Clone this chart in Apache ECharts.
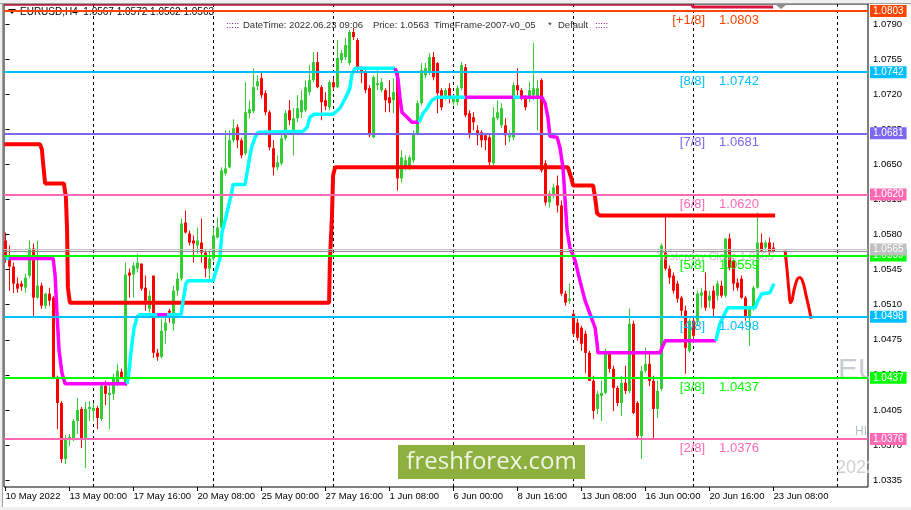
<!DOCTYPE html>
<html>
<head>
<meta charset="utf-8">
<script src="https://cdn.jsdelivr.net/npm/echarts@6/dist/echarts.min.js"></script>
<style>
html,body{margin:0;padding:0;background:#fff;overflow:hidden}
#chart{width:911px;height:510px}
</style>
</head>
<body>
<div id="chart"></div>
<script>
// ---------------- DATA ----------------
const xLabelBars = [0,16,32,48,64,80,96,112,128,144,160,176,192];
const xLabelTexts = ['10 May 2022','13 May 00:00','17 May 16:00','20 May 08:00','25 May 00:00','27 May 16:00','1 Jun 08:00','6 Jun 00:00','8 Jun 16:00','13 Jun 08:00','16 Jun 00:00','20 Jun 16:00','23 Jun 08:00'];
const yTickValues = [1.0790,1.0755,1.0720,1.0685,1.0650,1.0615,1.0580,1.0545,1.0510,1.0475,1.0440,1.0405,1.0370,1.0335];
const separatorBars = [22,52,82,112,142,172,208];

const open = [
1.0574,1.0559,1.0548,1.0531,1.0531,1.0527,1.0539,1.0566,1.0517,1.0529,
1.0509,1.0521,1.0517,1.0437,1.0412,1.0356,1.0375,1.0376,1.0394,1.0406,
1.0375,1.0406,1.0404,1.0407,1.0396,1.0429,1.0420,1.0421,1.0431,1.0443,
1.0431,1.0542,1.0540,1.0546,1.0551,1.0527,1.0506,1.0539,1.0462,1.0458,
1.0484,1.0504,1.0491,1.0524,1.0536,1.0592,1.0581,1.0574,1.0569,1.0572,
1.0562,1.0546,1.0556,1.0577,1.0587,1.0641,1.0647,1.0674,1.0687,1.0674,
1.0661,1.0701,1.0703,1.0728,1.0736,1.0721,1.0702,1.0666,1.0647,1.0651,
1.0676,1.0704,1.0684,1.0696,1.0702,1.0704,1.0722,1.0734,1.0752,1.0727,
1.0714,1.0707,1.0732,1.0727,1.0754,1.0757,1.0751,1.0782,1.0774,1.0746,
1.0742,1.0726,1.0677,1.0729,1.0724,1.0724,1.0717,1.0714,1.0742,1.0636,
1.0647,1.0646,1.0654,1.0681,1.0711,1.0739,1.0742,1.0757,1.0751,1.0724,
1.0717,1.0726,1.0712,1.0712,1.0726,1.0747,1.0701,1.0697,1.0684,1.0682,
1.0679,1.0677,1.0651,1.0696,1.0689,1.0689,1.0677,1.0677,1.0729,1.0724,
1.0716,1.0717,1.0719,1.0717,1.0734,1.0651,1.0612,1.0619,1.0629,1.0609,
1.0521,1.0514,1.0501,1.0492,1.0487,1.0481,1.0462,1.0434,1.0406,1.0419,
1.0422,1.0461,1.0446,1.0427,1.0412,1.0432,1.0424,1.0491,1.0412,1.0379,
1.0444,1.0451,1.0434,1.0406,1.0426,1.0562,1.0546,1.0539,1.0531,1.0517,
1.0504,1.0464,1.0494,1.0494,1.0519,1.0524,1.0514,1.0524,1.0519,1.0529,
1.0519,1.0576,1.0554,1.0532,1.0536,1.0517,1.0497,1.0506,1.0527,1.0572,
1.0567,1.0572,1.0567];
const high = [
1.0582,1.0569,1.0552,1.0537,1.0534,1.0541,1.0574,1.0571,1.0574,1.0532,
1.0522,1.0527,1.0519,1.0439,1.0414,1.0380,1.0381,1.0396,1.0417,1.0408,
1.0413,1.0414,1.0412,1.0409,1.0431,1.0434,1.0431,1.0441,1.0451,1.0446,
1.0552,1.0546,1.0552,1.0561,1.0551,1.0539,1.0524,1.0539,1.0466,1.0496,
1.0499,1.0506,1.0529,1.0542,1.0596,1.0604,1.0584,1.0579,1.0587,1.0596,
1.0564,1.0564,1.0587,1.0597,1.0647,1.0684,1.0684,1.0695,1.0690,1.0676,
1.0732,1.0714,1.0746,1.0739,1.0742,1.0724,1.0704,1.0674,1.0659,1.0684,
1.0704,1.0714,1.0706,1.0719,1.0724,1.0734,1.0749,1.0762,1.0762,1.0729,
1.0722,1.0734,1.0736,1.0774,1.0764,1.0776,1.0784,1.0786,1.0776,1.0748,
1.0744,1.0729,1.0739,1.0744,1.0736,1.0726,1.0734,1.0736,1.0744,1.0664,
1.0659,1.0659,1.0684,1.0714,1.0751,1.0751,1.0761,1.0762,1.0752,1.0726,
1.0726,1.0731,1.0719,1.0729,1.0752,1.0750,1.0704,1.0702,1.0689,1.0684,
1.0681,1.0679,1.0707,1.0714,1.0711,1.0696,1.0684,1.0732,1.0746,1.0726,
1.0719,1.0732,1.0771,1.0734,1.0736,1.0654,1.0624,1.0631,1.0639,1.0614,
1.0524,1.0531,1.0504,1.0496,1.0489,1.0484,1.0464,1.0439,1.0424,1.0434,
1.0466,1.0464,1.0449,1.0429,1.0439,1.0449,1.0506,1.0494,1.0414,1.0449,
1.0467,1.0464,1.0439,1.0434,1.0571,1.0599,1.0549,1.0542,1.0534,1.0519,
1.0509,1.0496,1.0499,1.0524,1.0527,1.0542,1.0524,1.0529,1.0534,1.0534,
1.0576,1.0581,1.0556,1.0536,1.0539,1.0519,1.0509,1.0529,1.0602,1.0581,
1.0574,1.0577,1.0572];
const low = [
1.0552,1.0524,1.0522,1.0522,1.0524,1.0522,1.0537,1.0499,1.0516,1.0506,
1.0506,1.0509,1.0436,1.0386,1.0352,1.0351,1.0369,1.0374,1.0381,1.0367,
1.0347,1.0394,1.0394,1.0386,1.0394,1.0410,1.0386,1.0415,1.0429,1.0436,
1.0429,1.0517,1.0517,1.0542,1.0524,1.0504,1.0502,1.0457,1.0454,1.0456,
1.0471,1.0492,1.0484,1.0519,1.0534,1.0581,1.0569,1.0552,1.0561,1.0552,
1.0537,1.0534,1.0554,1.0576,1.0584,1.0639,1.0646,1.0672,1.0666,1.0656,
1.0659,1.0696,1.0701,1.0724,1.0716,1.0699,1.0664,1.0639,1.0644,1.0649,
1.0674,1.0689,1.0659,1.0692,1.0696,1.0702,1.0719,1.0732,1.0726,1.0694,
1.0704,1.0704,1.0724,1.0726,1.0751,1.0754,1.0749,1.0774,1.0741,1.0731,
1.0721,1.0677,1.0676,1.0724,1.0722,1.0702,1.0702,1.0701,1.0624,1.0632,
1.0644,1.0644,1.0651,1.0679,1.0709,1.0736,1.0739,1.0734,1.0701,1.0704,
1.0714,1.0711,1.0709,1.0709,1.0724,1.0697,1.0676,1.0684,1.0669,1.0667,
1.0664,1.0649,1.0649,1.0694,1.0686,1.0669,1.0672,1.0674,1.0719,1.0714,
1.0704,1.0712,1.0714,1.0684,1.0642,1.0609,1.0607,1.0616,1.0602,1.0519,
1.0509,1.0511,1.0478,1.0474,1.0464,1.0442,1.0434,1.0396,1.0401,1.0394,
1.0421,1.0442,1.0404,1.0409,1.0399,1.0421,1.0422,1.0401,1.0377,1.0356,
1.0442,1.0429,1.0377,1.0397,1.0424,1.0544,1.0531,1.0521,1.0512,1.0499,
1.0441,1.0462,1.0474,1.0489,1.0507,1.0504,1.0507,1.0497,1.0514,1.0517,
1.0517,1.0544,1.0524,1.0524,1.0516,1.0494,1.0469,1.0504,1.0526,1.0562,
1.0564,1.0559,1.0562];
const close = [
1.0559,1.0548,1.0531,1.0526,1.0528,1.0537,1.0566,1.0517,1.0529,1.0509,
1.0521,1.0514,1.0437,1.0412,1.0356,1.0377,1.0378,1.0394,1.0405,1.0375,
1.0406,1.0408,1.0407,1.0397,1.0429,1.0421,1.0422,1.0437,1.0444,1.0437,
1.0540,1.0539,1.0549,1.0552,1.0526,1.0514,1.0519,1.0462,1.0458,1.0484,
1.0492,1.0502,1.0524,1.0536,1.0591,1.0582,1.0572,1.0571,1.0574,1.0562,
1.0546,1.0556,1.0579,1.0587,1.0644,1.0646,1.0674,1.0686,1.0674,1.0659,
1.0702,1.0705,1.0727,1.0733,1.0719,1.0702,1.0667,1.0647,1.0652,1.0676,
1.0701,1.0694,1.0696,1.0706,1.0714,1.0727,1.0734,1.0752,1.0727,1.0712,
1.0708,1.0732,1.0727,1.0756,1.0761,1.0769,1.0782,1.0777,1.0747,1.0741,
1.0724,1.0679,1.0737,1.0731,1.0732,1.0714,1.0711,1.0722,1.0636,1.0657,
1.0654,1.0657,1.0681,1.0711,1.0744,1.0746,1.0757,1.0737,1.0721,1.0707,
1.0724,1.0717,1.0717,1.0726,1.0749,1.0699,1.0681,1.0692,1.0679,1.0674,
1.0674,1.0652,1.0697,1.0702,1.0706,1.0679,1.0679,1.0729,1.0724,1.0716,
1.0707,1.0724,1.0726,1.0726,1.0644,1.0612,1.0621,1.0627,1.0609,1.0521,
1.0512,1.0516,1.0481,1.0477,1.0471,1.0462,1.0434,1.0404,1.0421,1.0422,
1.0464,1.0446,1.0427,1.0412,1.0432,1.0424,1.0491,1.0402,1.0379,1.0444,
1.0451,1.0434,1.0406,1.0424,1.0569,1.0546,1.0537,1.0524,1.0516,1.0504,
1.0467,1.0494,1.0479,1.0521,1.0522,1.0507,1.0519,1.0506,1.0531,1.0519,
1.0576,1.0547,1.0531,1.0527,1.0517,1.0497,1.0506,1.0527,1.0572,1.0564,
1.0572,1.0562,1.0563];

// Murrey math levels
const levelValues = [1.0803,1.0742,1.0681,1.0620,1.0559,1.0498,1.0437,1.0376];
const levelNames  = ['[+1/8]','[8/8]','[7/8]','[6/8]','[5/8]','[4/8]','[3/8]','[2/8]'];
const yesterdayClose = 1.0565;
const bidPrice = 1.0563;

// trailing trend line (cyan = up, magenta = down), vertices
const stBars = [0,1,11.9,12.4,12.9,13.4,14.1,14.9,30.4,30.9,31.4,32.1,32.9,33.6,37.9,40.4,43.9,44.4,45.1,45.6,
51.9,52.9,53.6,54.1,54.9,55.6,56.4,56.9,59.9,60.4,60.9,61.6,62.4,63.1,74.4,75.4,76.1,77.1,81.9,83.6,
85.1,86.1,86.6,87.4,97.4,98.1,98.6,99.1,100.4,101.6,103.4,104.4,105.4,106.6,107.9,114.9,126.9,128.6,134.1,134.9,
135.6,136.1,137.9,138.6,139.4,139.9,140.4,141.1,142.4,143.6,144.9,146.1,147.4,147.9,148.1,163.6,164.9,177.6,178.6,179.9,
180.6,187.4,188.1,189.1,191.1,192.1];
const stPrices = [1.0556,1.0556,1.0556,1.0539,1.0499,1.0464,1.0442,1.0431,1.0431,1.0444,1.0464,1.0486,1.0498,1.0500,1.0500,1.0500,1.0500,1.0514,1.0531,1.0534,
1.0534,1.0547,1.0556,1.0582,1.0594,1.0606,1.0619,1.0630,1.0630,1.0642,1.0654,1.0668,1.0677,1.0682,1.0683,1.0687,1.0697,1.0700,1.0700,1.0706,
1.0717,1.0726,1.0740,1.0746,1.0746,1.0736,1.0717,1.0702,1.0697,1.0692,1.0692,1.0701,1.0706,1.0714,1.0717,1.0717,1.0717,1.0717,1.0717,1.0711,
1.0697,1.0678,1.0677,1.0667,1.0646,1.0614,1.0584,1.0567,1.0554,1.0534,1.0514,1.0501,1.0487,1.0471,1.0462,1.0462,1.0474,1.0474,1.0491,1.0502,
1.0507,1.0507,1.0514,1.0521,1.0522,1.0531];
const stTrend = [1,0,0,0,0,0,0,0,1,1,1,1,1,1,0,1,1,1,1,1,
1,1,1,1,1,1,1,1,1,1,1,1,1,1,1,1,1,1,1,1,
1,1,1,1,0,0,0,0,0,0,1,1,1,1,1,0,1,0,0,0,
0,0,0,0,0,0,0,0,0,0,0,0,0,0,0,0,0,1,1,1,
1,1,1,1,1,1];

// red stepped stop line
const stopBars = [-0.3,8.6,9.1,9.4,9.9,14.6,15.1,15.4,15.6,16.1,80.9,81.1,81.6,81.9,82.4,140.6,141.4,141.9,146.9,147.4,147.9,148.6,192.4];
const stopPrices = [1.0670,1.0670,1.0665,1.0651,1.0631,1.0631,1.0617,1.0584,1.0527,1.0512,1.0512,1.0554,1.0597,1.0639,1.0647,1.0647,1.0637,1.0629,1.0629,1.0617,1.0601,1.0599,1.0599];

// crimson line at the top edge
const upperBars = [-0.3,171.6,171.9,191.9];
const upperPrices = [1.0809,1.0809,1.0807,1.0807];

// red forecast curve
const fcBars = [194.9,195.4,195.9,196.2,196.6,197.1,197.9,198.6,199.4,200.1,200.9,201.4];
const fcPrices = [1.0564,1.0544,1.0522,1.0512,1.0514,1.0524,1.0535,1.0537,1.0532,1.0520,1.0506,1.0496];

// ---------------- STYLE / LAYOUT ----------------
const FONT = "'Liberation Sans', Arial, sans-serif";
const levelColors = ['#FF4500','#00BFFF','#7B68EE','#FF69B4','#00FF00','#00BFFF','#00FF00','#FF69B4'];
const PX_PER_UNIT = 10023.4;
const Y_MAX = 1.0803 + 7 / PX_PER_UNIT;
const Y_MIN = 1.0803 - 476 / PX_PER_UNIT;
const LABEL_NAME_BAR = 174.9;
const LABEL_VALUE_BAR = 178.4;
const YC_TEXT_BAR = 162.9;

function tstyle(o){
  const s = Object.assign({fontFamily: FONT}, o);
  if (o.align) s.textAlign = o.align;
  if (o.verticalAlign) s.textVerticalAlign = o.verticalAlign;
  return s;
}

const series = [];

// period separators
series.push({
  type:'line', data:[], z:1, silent:true,
  markLine:{symbol:['none','none'], silent:true, animation:false, precision:6, z:1,
    label:{show:false},
    lineStyle:{color:'#000', width:1, type:[3,3]},
    emphasis:{disabled:true},
    data: separatorBars.map(k => ({xAxis:k}))}
});

// candles
series.push({
  type:'custom', z:2, silent:true, clip:true,
  data: open.map((o,i)=>[i,o,close[i],low[i],high[i]]),
  encode:{x:0, y:[1,2,3,4]},
  renderItem:(params, api)=>{
    const k = api.value(0), o = api.value(1), c = api.value(2), l = api.value(3), h = api.value(4);
    const pO = api.coord([k,o]), pC = api.coord([k,c]), pL = api.coord([k,l]), pH = api.coord([k,h]);
    const x = pO[0];
    const color = c >= o ? '#32CD32' : '#FF0000';
    const top = Math.min(pO[1], pC[1]), bot = Math.max(pO[1], pC[1]);
    return {type:'group', children:[
      {type:'rect', shape:{x:x-0.5, y:pH[1], width:1, height:Math.max(1,pL[1]-pH[1])}, style:{fill:color}},
      {type:'rect', shape:{x:x-1.5, y:top, width:3, height:Math.max(1,bot-top)}, style:{fill:color}}
    ]};
  }
});

// red stop line
series.push({
  type:'line', z:3, silent:true, symbol:'none', clip:true,
  data: stopBars.map((k,i)=>[k, stopPrices[i]]),
  lineStyle:{color:'#FF0000', width:4}
});

// trend line runs
let runStart = 0;
for (let i = 1; i < stBars.length; i++) {
  if (i === stBars.length - 1 || stTrend[i] !== stTrend[runStart]) {
    const pts = [];
    for (let j = runStart; j <= i; j++) pts.push([stBars[j], stPrices[j]]);
    series.push({
      type:'line', z:3, silent:true, symbol:'none', clip:true, data: pts,
      lineStyle:{color: stTrend[runStart] ? '#00FFFF' : '#FF00FF', width:3.5}
    });
    runStart = i;
  }
}

// crimson top lines
series.push({
  type:'line', z:3, silent:true, symbol:'none', clip:true,
  data: upperBars.slice(0,2).map((k,i)=>[k, upperPrices[i]]),
  lineStyle:{color:'#B01030', width:1.5}
});
series.push({
  type:'line', z:3, silent:true, symbol:'none', clip:true,
  data: upperBars.slice(1).map((k,i)=>[k, upperPrices[i+1]]),
  lineStyle:{color:'#DC143C', width:3}
});

// forecast curve
series.push({
  type:'line', z:3, silent:true, symbol:'none', smooth:0.35, clip:true,
  data: fcBars.map((k,i)=>[k, fcPrices[i]]),
  lineStyle:{color:'#FF0000', width:3}
});

// horizontal levels with price boxes
const levelMarks = levelValues.map((v,i)=>({
  yAxis: v,
  lineStyle:{color: levelColors[i], width:2, type:'solid'},
  label:{show:true, position:'end', formatter: v.toFixed(4), color:'#fff',
    backgroundColor: levelColors[i], padding:[1,3,0,3], fontSize:10, lineHeight:11,
    fontFamily: FONT, distance:2}
}));
levelMarks.push({
  yAxis: bidPrice,
  lineStyle:{color:'#8C8C8C', width:1, type:'solid'},
  label:{show:false}
});
levelMarks.push({
  yAxis: yesterdayClose,
  lineStyle:{color:'#C0C0C0', width:1, type:'solid'},
  label:{show:true, position:'end', formatter: yesterdayClose.toFixed(4), color:'#fff',
    backgroundColor:'#C0C0C0', padding:[1,3,0,3], fontSize:10, lineHeight:11,
    fontFamily: FONT, distance:2}
});
series.push({
  type:'line', data:[], z:6, silent:true,
  markLine:{symbol:['none','none'], silent:true, animation:false, precision:6, z:10,
    emphasis:{disabled:true}, data: levelMarks}
});

// yesterday close text
series.push({
  type:'custom', z:6, silent:true,
  data:[[0, yesterdayClose]],
  renderItem:(params, api)=>{
    const p = api.coord([YC_TEXT_BAR, yesterdayClose]);
    return {type:'text', x:p[0], y:p[1]+2,
      style: tstyle({text:'Yesterday Close ' + yesterdayClose.toFixed(4), fill:'#C0C0C0', fontSize:11, align:'left', verticalAlign:'top'})};
  }
});

// level texts
series.push({
  type:'custom', z:11, silent:true,
  data: levelValues.map((v,i)=>[i, v]),
  renderItem:(params, api)=>{
    const i = params.dataIndex;
    const v = levelValues[i];
    const a = api.coord([LABEL_NAME_BAR, v]);
    const b = api.coord([LABEL_VALUE_BAR, v]);
    const c = levelColors[i];
    return {type:'group', children:[
      {type:'text', x:a[0], y:a[1]+3, style: tstyle({text:levelNames[i], fill:c, fontSize:13, align:'right', verticalAlign:'top'})},
      {type:'text', x:b[0], y:b[1]+3, style: tstyle({text:v.toFixed(4), fill:c, fontSize:13, align:'left', verticalAlign:'top'})}
    ]};
  }
});

const HF = 9.5;
const graphics = [
  {type:'rect', z:0, shape:{x:0,y:0,width:911,height:3}, style:{fill:'#F0F0F0'}},
  {type:'rect', z:0, shape:{x:0,y:0,width:3,height:510}, style:{fill:'#F0F0F0'}},
  {type:'rect', z:0, shape:{x:0,y:507,width:911,height:3}, style:{fill:'#F0F0F0'}},
  {type:'rect', z:0, shape:{x:0,y:3,width:911,height:1}, style:{fill:'#A0A0A0'}},
  {type:'rect', z:0, shape:{x:2,y:3,width:1,height:504}, style:{fill:'#A0A0A0'}},
  // watermark fragments
  {type:'text', z:1, x:838, y:371, style: tstyle({text:'EU', fill:'#C8CCD2', fontSize:30, align:'left', verticalAlign:'middle'})},
  {type:'text', z:1, x:855, y:432, style: tstyle({text:'HI', fill:'#B8BCC4', fontSize:12, align:'left', verticalAlign:'middle'})},
  {type:'text', z:1, x:836, y:468, style: tstyle({text:'2022', fill:'#D0D0D0', fontSize:18, align:'left', verticalAlign:'middle'})},
  {type:'rect', z:2, shape:{x:869,y:4,width:42,height:483}, style:{fill:'#fff'}},
  // header texts
  {type:'polygon', z:1, shape:{points:[[8,9],[16,9],[12,14]]}, style:{fill:'#000'}},
  {type:'text', z:1, x:20, y:12, style: tstyle({text:'EURUSD,H4  1.0567 1.0572 1.0562 1.0563', fill:'#000', fontSize:10, align:'left', verticalAlign:'middle'})},
  {type:'text', z:1, x:226, y:25, style: tstyle({text:':::::', fill:'#800080', fontSize:HF, align:'left', verticalAlign:'middle'})},
  {type:'text', z:1, x:243, y:25, style: tstyle({text:'DateTime: 2022.06.23 09:06', fill:'#303030', fontSize:HF, align:'left', verticalAlign:'middle'})},
  {type:'text', z:1, x:373, y:25, style: tstyle({text:'Price: 1.0563', fill:'#303030', fontSize:HF, align:'left', verticalAlign:'middle'})},
  {type:'text', z:1, x:434, y:25, style: tstyle({text:'TimeFrame-2007-v0_05', fill:'#303030', fontSize:HF, align:'left', verticalAlign:'middle'})},
  {type:'text', z:1, x:548, y:25, style: tstyle({text:'*', fill:'#303030', fontSize:HF, align:'left', verticalAlign:'middle'})},
  {type:'text', z:1, x:558, y:25, style: tstyle({text:'Default', fill:'#303030', fontSize:HF, align:'left', verticalAlign:'middle'})},
  {type:'text', z:1, x:595, y:25, style: tstyle({text:':::::', fill:'#800080', fontSize:HF, align:'left', verticalAlign:'middle'})},
  // chart shift marker
  {type:'polygon', z:10, shape:{points:[[775,4],[787,4],[781,9]]}, style:{fill:'#8C8C8C'}},
  // logo
  {type:'rect', z:12, shape:{x:398,y:445,width:187,height:34}, style:{fill:'#8DB03F'}},
  {type:'text', z:13, x:491.5, y:462, style:{text:'freshforex.com', fill:'#F2F6E6', fontSize:24, fontFamily:"'Open Sans', sans-serif", align:'center', verticalAlign:'middle', textAlign:'center', textVerticalAlign:'middle'}}
];

const option = {
  animation:false,
  backgroundColor:'#fff',
  grid:{left:4, top:4, width:864, height:483, show:true, borderColor:'#000', borderWidth:1, backgroundColor:'#fff'},
  xAxis:{
    type:'value', min:-0.375, max:215.625, position:'bottom', z:5,
    axisLine:{show:false}, splitLine:{show:false},
    axisTick:{show:true, customValues:xLabelBars, length:4, inside:false, lineStyle:{color:'#000'}},
    axisLabel:{customValues:xLabelBars, formatter:(v)=>{const i=xLabelBars.indexOf(v); return i>=0?xLabelTexts[i]:'';},
      align:'left', margin:4, fontSize:9.5, color:'#000', fontFamily:FONT}
  },
  yAxis:{
    type:'value', min:Y_MIN, max:Y_MAX, position:'right', z:5, scale:true,
    axisLine:{show:false}, splitLine:{show:false},
    axisTick:{show:true, customValues:yTickValues, length:4, inside:false, lineStyle:{color:'#000'}},
    axisLabel:{customValues:yTickValues, formatter:(v)=>v.toFixed(4), margin:5, fontSize:9.5, color:'#000', fontFamily:FONT, padding:[2,0,0,0]}
  },
  graphic:{elements: graphics},
  series: series
};

const chart = echarts.init(document.getElementById('chart'));
chart.setOption(option);
</script>
</body>
</html>
